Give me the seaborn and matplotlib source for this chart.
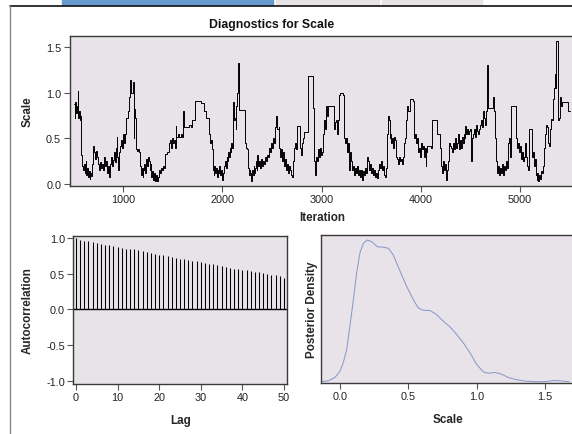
import numpy as np
import pandas as pd
import matplotlib
matplotlib.use('Agg')
import matplotlib.pyplot as plt
import seaborn as sns
from matplotlib.patches import Rectangle
from matplotlib.lines import Line2D
from matplotlib.ticker import FormatStrFormatter

# trace of Scale: (iteration, value) knots, drawn as steps
trace_iter = [
    502, 510, 518, 526, 534, 542, 548, 556, 562, 570, 576, 582, 590, 598, 606, 614, 622, 630, 638, 646,
    654, 662, 670, 680, 690, 698, 706, 716, 726, 736, 746, 756, 766, 776, 786, 796, 806, 816, 826, 836,
    846, 856, 866, 876, 886, 896, 906, 916, 926, 934, 942, 950, 958, 966, 976, 986, 996, 1006, 1016, 1024,
    1036, 1048, 1060, 1068, 1076, 1090, 1100, 1106, 1112, 1120, 1126, 1136, 1150, 1162, 1172, 1180, 1188, 1196, 1204, 1212,
    1222, 1232, 1240, 1250, 1258, 1268, 1276, 1284, 1292, 1300, 1310, 1320, 1330, 1340, 1350, 1360, 1370, 1380, 1392, 1404,
    1416, 1426, 1440, 1456, 1462, 1472, 1480, 1490, 1500, 1510, 1520, 1530, 1536, 1550, 1566, 1580, 1596, 1606, 1612, 1640,
    1660, 1680, 1698, 1720, 1724, 1774, 1784, 1810, 1814, 1830, 1840, 1856, 1862, 1872, 1882, 1892, 1902, 1912, 1920, 1928,
    1936, 1944, 1952, 1960, 1968, 1978, 1988, 1996, 2006, 2014, 2024, 2034, 2042, 2050, 2058, 2066, 2074, 2082, 2090, 2098,
    2106, 2112, 2118, 2126, 2134, 2142, 2150, 2156, 2168, 2220, 2228, 2238, 2248, 2258, 2266, 2274, 2282, 2290, 2298, 2306,
    2314, 2322, 2330, 2338, 2346, 2354, 2362, 2372, 2382, 2392, 2402, 2412, 2422, 2432, 2442, 2452, 2462, 2472, 2482, 2492,
    2502, 2512, 2522, 2534, 2544, 2552, 2566, 2574, 2584, 2594, 2604, 2614, 2624, 2634, 2644, 2654, 2664, 2674, 2684, 2694,
    2704, 2712, 2722, 2732, 2742, 2752, 2780, 2786, 2796, 2806, 2816, 2822, 2856, 2860, 2910, 2914, 2920, 2928, 2936, 2944,
    2954, 2964, 2974, 2984, 2994, 3004, 3014, 3024, 3034, 3044, 3052, 3060, 3124, 3130, 3140, 3150, 3160, 3168, 3174, 3190,
    3218, 3222, 3234, 3244, 3254, 3262, 3272, 3280, 3290, 3300, 3310, 3320, 3330, 3340, 3350, 3360, 3370, 3380, 3390, 3400,
    3410, 3420, 3432, 3442, 3452, 3460, 3470, 3480, 3490, 3500, 3510, 3520, 3530, 3540, 3550, 3560, 3570, 3580, 3590, 3600,
    3610, 3620, 3630, 3640, 3650, 3660, 3666, 3676, 3686, 3694, 3704, 3714, 3724, 3734, 3744, 3754, 3764, 3774, 3784, 3794,
    3804, 3814, 3824, 3834, 3844, 3854, 3866, 3876, 3888, 3910, 3920, 3928, 3938, 3948, 3958, 3968, 3978, 3988, 3998, 4008,
    4018, 4028, 4038, 4048, 4058, 4064, 4090, 4100, 4112, 4160, 4166, 4180, 4192, 4200, 4210, 4220, 4230, 4240, 4250, 4258,
    4266, 4276, 4284, 4296, 4306, 4314, 4324, 4334, 4344, 4354, 4364, 4374, 4384, 4394, 4404, 4414, 4424, 4434, 4444, 4450,
    4460, 4470, 4480, 4490, 4500, 4506, 4514, 4524, 4534, 4544, 4556, 4566, 4578, 4588, 4598, 4610, 4620, 4630, 4640, 4650,
    4660, 4668, 4676, 4720, 4726, 4736, 4746, 4756, 4766, 4776, 4786, 4796, 4806, 4816, 4826, 4836, 4846, 4856, 4866, 4876,
    4884, 4894, 4900, 4906, 4958, 4964, 4974, 4984, 4994, 5004, 5014, 5024, 5034, 5044, 5054, 5064, 5074, 5084, 5094, 5114,
    5120, 5130, 5140, 5150, 5160, 5168, 5176, 5184, 5192, 5200, 5210, 5220, 5230, 5240, 5250, 5260, 5270, 5280, 5290, 5300,
    5310, 5320, 5330, 5340, 5350, 5360, 5368, 5380, 5386, 5394, 5400, 5410, 5420, 5480, 5488, 5500,
]
trace_val = [
    0.88, 0.72, 0.90, 0.78, 0.85, 1.02, 0.72, 0.80, 0.70, 0.75, 0.32, 0.28, 0.20, 0.15, 0.22, 0.12, 0.25, 0.10, 0.18, 0.08,
    0.14, 0.06, 0.12, 0.09, 0.22, 0.42, 0.35, 0.28, 0.36, 0.30, 0.22, 0.15, 0.24, 0.18, 0.22, 0.16, 0.30, 0.20, 0.25, 0.12,
    0.20, 0.08, 0.22, 0.30, 0.20, 0.26, 0.35, 0.24, 0.40, 0.52, 0.30, 0.15, 0.35, 0.42, 0.48, 0.40, 0.55, 0.45, 0.55, 0.72,
    0.72, 0.80, 0.95, 1.14, 1.00, 1.00, 1.12, 0.50, 0.82, 0.72, 0.38, 0.36, 0.38, 0.35, 0.20, 0.10, 0.18, 0.08, 0.15, 0.22,
    0.12, 0.28, 0.20, 0.30, 0.25, 0.15, 0.22, 0.08, 0.14, 0.05, 0.12, 0.04, 0.10, 0.03, 0.08, 0.16, 0.12, 0.18, 0.15, 0.20,
    0.18, 0.33, 0.35, 0.35, 0.45, 0.48, 0.40, 0.50, 0.45, 0.48, 0.40, 0.64, 0.52, 0.55, 0.52, 0.55, 0.52, 0.80, 0.62, 0.62,
    0.65, 0.62, 0.70, 0.70, 0.91, 0.91, 0.89, 0.89, 0.80, 0.80, 0.72, 0.72, 0.55, 0.45, 0.48, 0.38, 0.15, 0.10, 0.20, 0.12,
    0.18, 0.08, 0.16, 0.12, 0.20, 0.10, 0.15, 0.05, 0.12, 0.20, 0.25, 0.18, 0.30, 0.25, 0.35, 0.30, 0.40, 0.35, 0.45, 0.40,
    0.50, 0.90, 0.70, 0.72, 0.60, 0.85, 1.00, 1.33, 0.81, 0.81, 0.45, 0.40, 0.38, 0.18, 0.10, 0.15, 0.12, 0.03, 0.15, 0.10,
    0.20, 0.12, 0.18, 0.25, 0.15, 0.32, 0.20, 0.25, 0.18, 0.28, 0.20, 0.25, 0.22, 0.30, 0.25, 0.32, 0.30, 0.40, 0.35, 0.45,
    0.40, 0.50, 0.45, 0.62, 0.75, 0.60, 0.62, 0.40, 0.30, 0.38, 0.25, 0.35, 0.20, 0.28, 0.15, 0.22, 0.12, 0.20, 0.15, 0.10,
    0.08, 0.25, 0.40, 0.45, 0.38, 0.64, 0.64, 0.40, 0.32, 0.45, 0.50, 0.57, 0.57, 1.18, 1.18, 0.83, 0.35, 0.25, 0.10, 0.30,
    0.25, 0.38, 0.30, 0.40, 0.32, 0.35, 0.55, 0.70, 0.60, 0.85, 0.75, 0.85, 0.85, 0.60, 0.68, 0.70, 0.55, 0.70, 0.98, 1.00,
    0.98, 0.50, 0.45, 0.50, 0.35, 0.45, 0.38, 0.15, 0.35, 0.25, 0.15, 0.20, 0.10, 0.18, 0.12, 0.20, 0.10, 0.16, 0.08, 0.15,
    0.05, 0.14, 0.10, 0.18, 0.12, 0.30, 0.25, 0.15, 0.22, 0.12, 0.18, 0.10, 0.15, 0.08, 0.12, 0.07, 0.15, 0.22, 0.18, 0.25,
    0.15, 0.20, 0.10, 0.08, 0.18, 0.55, 0.75, 0.70, 0.50, 0.55, 0.45, 0.50, 0.40, 0.52, 0.48, 0.30, 0.28, 0.22, 0.30, 0.25,
    0.28, 0.22, 0.30, 0.45, 0.50, 0.70, 0.85, 0.80, 0.93, 0.93, 0.91, 0.50, 0.55, 0.45, 0.50, 0.35, 0.40, 0.30, 0.45, 0.38,
    0.42, 0.30, 0.40, 0.20, 0.35, 0.42, 0.42, 0.40, 0.70, 0.70, 0.55, 0.55, 0.40, 0.20, 0.12, 0.25, 0.15, 0.22, 0.10, 0.05,
    0.15, 0.25, 0.45, 0.42, 0.40, 0.35, 0.45, 0.38, 0.50, 0.40, 0.45, 0.55, 0.38, 0.48, 0.40, 0.52, 0.45, 0.55, 0.50, 0.64,
    0.55, 0.60, 0.55, 0.58, 0.60, 0.25, 0.50, 0.55, 0.60, 0.52, 0.65, 0.58, 0.55, 0.60, 0.65, 0.70, 0.62, 0.80, 0.72, 0.65,
    0.80, 1.30, 0.83, 0.83, 0.95, 0.80, 0.50, 0.25, 0.12, 0.20, 0.10, 0.18, 0.12, 0.22, 0.10, 0.20, 0.15, 0.25, 0.18, 0.30,
    0.45, 0.50, 0.30, 0.85, 0.85, 0.50, 0.40, 0.45, 0.35, 0.42, 0.28, 0.35, 0.25, 0.30, 0.45, 0.30, 0.20, 0.15, 0.60, 0.60,
    0.30, 0.35, 0.20, 0.28, 0.10, 0.05, 0.12, 0.03, 0.10, 0.06, 0.14, 0.12, 0.20, 0.40, 0.55, 0.65, 0.62, 0.45, 0.42, 0.60,
    0.71, 0.70, 0.93, 1.05, 1.20, 1.05, 1.57, 1.57, 0.70, 0.72, 0.95, 0.85, 0.90, 0.90, 0.80, 0.80,
]

# autocorrelation by lag
acf_lag = list(range(51))
acf_val = [
    1.00, 0.98, 0.966, 0.96, 0.952, 0.933, 0.923, 0.909, 0.904, 0.89, 0.875, 0.865, 0.851, 0.851, 0.841, 0.827, 0.813,
    0.803, 0.798, 0.784, 0.769, 0.76, 0.745, 0.736, 0.726, 0.707, 0.707, 0.692, 0.683, 0.678, 0.668, 0.654, 0.635, 0.635,
    0.62, 0.606, 0.601, 0.587, 0.572, 0.563, 0.558, 0.548, 0.543, 0.529, 0.519, 0.51, 0.495, 0.481, 0.476, 0.466, 0.442,
]

# posterior density curve (relative height)
dens_x = [-0.134, -0.085, -0.037, 0.0, 0.024, 0.049, 0.073, 0.098, 0.122, 0.146, 0.171, 0.2, 0.232, 0.273, 0.317,
          0.354, 0.39, 0.44, 0.488, 0.537, 0.573, 0.61, 0.66, 0.707, 0.756, 0.805, 0.854, 0.902, 0.951, 1.0, 1.049,
          1.085, 1.134, 1.183, 1.232, 1.293, 1.366, 1.439, 1.512, 1.561, 1.61, 1.659, 1.675]
dens_y = [0.007, 0.012, 0.035, 0.08, 0.14, 0.23, 0.40, 0.58, 0.77, 0.91, 0.977, 1.0, 0.988, 0.953, 0.949,
          0.942, 0.895, 0.78, 0.674, 0.581, 0.523, 0.507, 0.505, 0.477, 0.43, 0.39, 0.337, 0.279, 0.209, 0.128, 0.074,
          0.065, 0.07, 0.058, 0.035, 0.019, 0.009, 0.005, 0.007, 0.014, 0.012, 0.007, 0.006]

sns.set_theme(style='white')
plt.rcParams['font.family'] = ['Liberation Sans', 'DejaVu Sans']
plt.rcParams['axes.unicode_minus'] = False

wall = '#E7E3E8'
spine = '#3a3a3a'
tick_fs = 7.8
lab_fs = 8.4

W, H = 572, 435
fig = plt.figure(figsize=(W / 100, H / 100), dpi=100)


def box(l, r, t, b):
    return [l / W, 1 - b / H, (r - l) / W, (b - t) / H]


def style(ax):
    ax.set_facecolor(wall)
    for s in ax.spines.values():
        s.set_color(spine)
        s.set_linewidth(1.0)
    ax.tick_params(axis='both', which='major', direction='out', length=4, width=0.8,
                   color='#555555', labelsize=tick_fs, labelcolor='#222222', pad=2,
                   bottom=True, left=True)


# browser tabs and frame above the graph
tab_h = 5.5
fig.patches.append(Rectangle((62 / W, 1 - tab_h / H), 211 / W, tab_h / H, color='#6699CC', transform=fig.transFigure))
fig.patches.append(Rectangle((276 / W, 1 - tab_h / H), 103 / W, tab_h / H, color='#E6E2E6', transform=fig.transFigure))
fig.patches.append(Rectangle((382 / W, 1 - tab_h / H), 100 / W, tab_h / H, color='#E6E2E6', transform=fig.transFigure))
fig.add_artist(Line2D([10 / W, 1], [1 - 7 / H] * 2, color='#111111', lw=1.2))
fig.add_artist(Line2D([10 / W] * 2, [0, 1 - 7 / H], color='#888888', lw=1.0))

fig.text(272 / W, 1 - 25 / H, 'Diagnostics for Scale', ha='center', va='center',
         fontsize=8.8, fontweight='bold', color='#111111')

# trace panel
ax1 = fig.add_axes(box(69.5, 574, 37, 187))
style(ax1)
df_tr = pd.DataFrame({'iteration': trace_iter, 'scale': trace_val})
sns.lineplot(data=df_tr, x='iteration', y='scale', ax=ax1, color='black', lw=0.7,
             drawstyle='steps-post', estimator=None, sort=False)
ax1.set_xlim(459, 5545)
ax1.set_ylim(-0.02, 1.62)
ax1.set_xticks([1000, 2000, 3000, 4000, 5000])
ax1.set_yticks([0.0, 0.5, 1.0, 1.5])
ax1.yaxis.set_major_formatter(FormatStrFormatter('%.1f'))
ax1.set_xlabel('Iteration', fontsize=lab_fs, fontweight='bold')
ax1.set_ylabel('Scale', fontsize=lab_fs, fontweight='bold')
ax1.xaxis.set_label_coords(0.5, (187 - 218) / 150)
ax1.yaxis.set_label_coords((28 - 69.5) / 504.5, 0.5)
ax1.yaxis.label.set_va('center')
ax1.xaxis.label.set_va('center')

# autocorrelation panel
ax2 = fig.add_axes(box(73.3, 287.3, 237, 385))
style(ax2)
ax2.vlines(acf_lag, 0, acf_val, color='black', lw=0.75)
ax2.axhline(0, color='black', lw=1.0)
ax2.set_xlim(-0.65, 50.8)
ax2.set_ylim(-1.047, 1.03)
ax2.set_xticks([0, 10, 20, 30, 40, 50])
ax2.set_yticks([-1.0, -0.5, 0.0, 0.5, 1.0])
ax2.yaxis.set_major_formatter(FormatStrFormatter('%.1f'))
ax2.set_xlabel('Lag', fontsize=lab_fs, fontweight='bold')
ax2.set_ylabel('Autocorrelation', fontsize=lab_fs, fontweight='bold')
ax2.xaxis.set_label_coords(0.5, (385 - 420.7) / 148)
ax2.yaxis.set_label_coords((28 - 73.3) / 214, 0.5)
ax2.yaxis.label.set_va('center')
ax2.xaxis.label.set_va('center')

# density panel
ax3 = fig.add_axes(box(321, 575, 236, 383.5))
style(ax3)
df_d = pd.DataFrame({'scale': dens_x, 'density': dens_y})
sns.lineplot(data=df_d, x='scale', y='density', ax=ax3, color='#8a9acb', lw=0.75,
             estimator=None, sort=False)
ax3.set_xlim(-0.139, 1.72)
ax3.set_ylim(0, 1.035)
ax3.set_xticks([0.0, 0.5, 1.0, 1.5])
ax3.xaxis.set_major_formatter(FormatStrFormatter('%.1f'))
ax3.set_yticks([])
ax3.tick_params(axis='y', left=False)
ax3.set_xlabel('Scale', fontsize=lab_fs, fontweight='bold')
ax3.set_ylabel('Posterior Density', fontsize=lab_fs, fontweight='bold')
ax3.xaxis.set_label_coords(0.5, (383.5 - 420) / 147.5)
ax3.yaxis.set_label_coords((311.7 - 321) / 254, 0.5)
ax3.yaxis.label.set_va('center')
ax3.xaxis.label.set_va('center')

fig.savefig('out.png', dpi=100)
